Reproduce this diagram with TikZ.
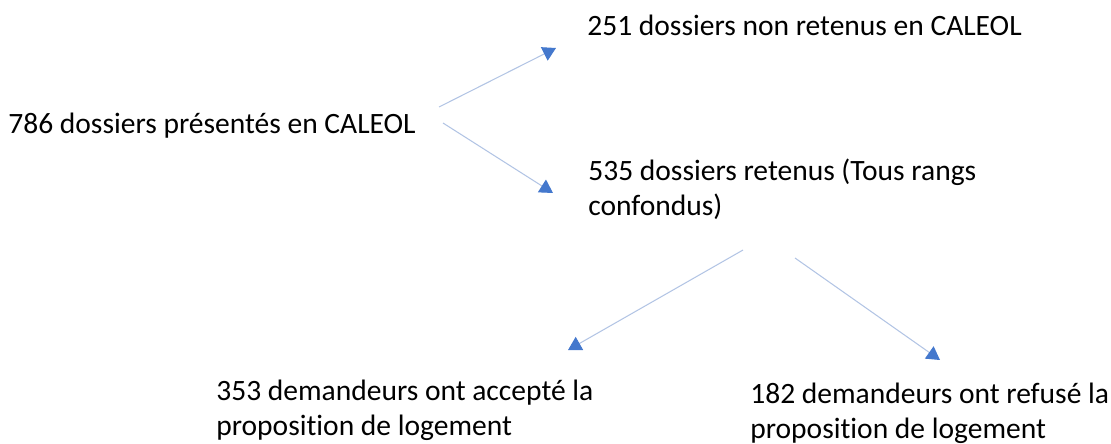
\documentclass[tikz,border=0pt]{standalone}
\usepackage{fontspec}
\setmainfont{Carlito}[Ligatures=NoCommon]
\usetikzlibrary{positioning,arrows.meta}

\definecolor{linkblue}{RGB}{178,196,228}
\definecolor{tipblue}{RGB}{68,120,205}

\begin{document}
\begin{tikzpicture}[
  x=0.02cm, y=-0.02cm,
  lb/.style={font=\fontsize{16.8}{19.8}\selectfont, align=left, inner sep=0pt, anchor=base west},
  ar/.style={-{Triangle[length=7.5pt, width=8.5pt, color=tipblue]}, draw=linkblue, line width=0.6pt},
]
\useasboundingbox (0,0) rectangle (1111,443);

\node[lb] (all)    at (8,133)   {786 dossiers présentés en CALEOL};
\node[lb] (nonret) at (587,35)  {251 dossiers non retenus en CALEOL};
\node[lb] (ret)    at (588,215) {535 dossiers retenus (Tous rangs\\confondus)};
\node[lb] (acc)    at (216,435) {353 demandeurs ont accepté la\\proposition de logement};
\node[lb] (ref)    at (750,438) {182 demandeurs ont refusé la\\proposition de logement};

% ends of the connectors
\coordinate (all-a) at ([shift={(431,-26)}]all.base west);
\coordinate (all-b) at ([shift={(435,-10)}]all.base west);
\coordinate (nonret-in) at ([shift={(-31,13)}]nonret.base west);
\coordinate (ret-in) at ([shift={(-35,-22)}]ret.base west);
\coordinate (ret-a) at ([shift={(155,35)}]ret.base west);
\coordinate (ret-b) at ([shift={(207,43)}]ret.base west);
\coordinate (acc-in) at ([shift={(352,-85)}]acc.base west);
\coordinate (ref-in) at ([shift={(190,-78)}]ref.base west);

\draw[ar] (all-a) -- (nonret-in);
\draw[ar] (all-b) -- (ret-in);
\draw[ar] (ret-a) -- (acc-in);
\draw[ar] (ret-b) -- (ref-in);
\end{tikzpicture}
\end{document}
